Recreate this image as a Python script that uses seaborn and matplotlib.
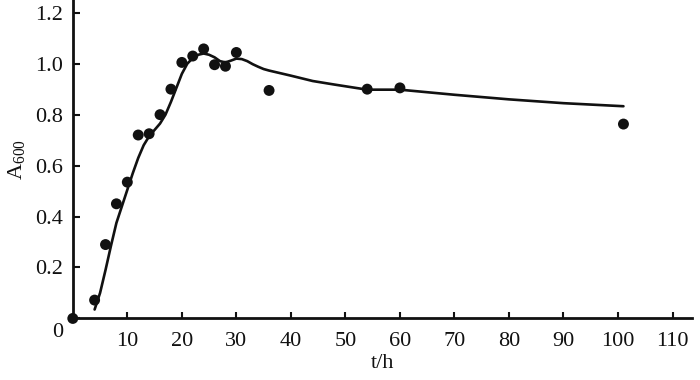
import matplotlib
matplotlib.use("Agg")
import matplotlib.pyplot as plt
import matplotlib.transforms as mtransforms
import seaborn as sns
import pandas as pd

# measured points (t in h, A600)
t_obs = [0, 4, 6, 8, 10, 12, 14, 16, 18, 20, 22, 24, 26, 28, 30, 36, 54, 60, 101]
a_obs = [0.0, 0.072, 0.29, 0.45, 0.535, 0.72, 0.725, 0.80, 0.90, 1.005, 1.03,
         1.058, 0.996, 0.99, 1.044, 0.895, 0.90, 0.905, 0.763]

# fitted curve
t_fit = [4, 5, 6, 7, 8, 9, 10, 11, 12, 13, 14, 15, 16, 17, 18, 19, 20, 21, 22,
         23, 24, 25, 26, 27, 28, 29, 30, 31, 32, 33, 34, 35, 36, 38, 40, 44,
         48, 54, 60, 70, 80, 90, 101]
a_fit = [0.035, 0.10, 0.19, 0.285, 0.375, 0.44, 0.505, 0.57, 0.63, 0.68, 0.715,
         0.74, 0.765, 0.80, 0.85, 0.905, 0.96, 1.00, 1.022, 1.035, 1.04, 1.035,
         1.025, 1.01, 1.005, 1.012, 1.02, 1.018, 1.01, 0.998, 0.988, 0.979,
         0.973, 0.963, 0.953, 0.932, 0.918, 0.898, 0.898, 0.878, 0.86, 0.845,
         0.833]

x_ticks = [10, 20, 30, 40, 50, 60, 70, 80, 90, 100, 110]
y_ticks = [0, 0.2, 0.4, 0.6, 0.8, 1.0, 1.2]
y_tick_labels = ["0", "0.2", "0.4", "0.6", "0.8", "1.0", "1.2"]

sns.set_theme(style="ticks")
plt.rcParams["font.family"] = ["Liberation Serif", "DejaVu Serif"]
plt.rcParams["mathtext.fontset"] = "custom"
plt.rcParams["mathtext.rm"] = "Liberation Serif"
plt.rcParams["mathtext.it"] = "Liberation Serif"

df_obs = pd.DataFrame({"t": t_obs, "A": a_obs})
df_fit = pd.DataFrame({"t": t_fit, "A": a_fit})

fig = plt.figure(figsize=(7, 3.8), dpi=100)
ax = fig.add_axes([0.104, 0.162, 0.884, 0.838])

sns.lineplot(data=df_fit, x="t", y="A", ax=ax, color="#111111", linewidth=1.9)
sns.scatterplot(data=df_obs, x="t", y="A", ax=ax, color="#111111", s=62,
                edgecolor="none", clip_on=False, zorder=5)

ax.set_xlim(0, 113.5)
ax.set_ylim(0, 1.25)
ax.set_xticks(x_ticks)
ax.set_yticks(y_ticks)
ax.set_yticklabels(y_tick_labels)

for side in ["top", "right"]:
    ax.spines[side].set_visible(False)
for side in ["left", "bottom"]:
    ax.spines[side].set_linewidth(2)
    ax.spines[side].set_color("#111111")

ax.tick_params(axis="x", direction="in", length=4, width=1.5, pad=10,
               labelsize=16, colors="#111111")
ax.tick_params(axis="y", direction="in", length=5, width=1.5, pad=7,
               labelsize=16, colors="#111111")

# the "0" at the origin sits a little lower than the axis line
zero_lbl = ax.get_yticklabels()[0]
zero_lbl.set_transform(zero_lbl.get_transform() +
                       mtransforms.ScaledTranslation(0, -8 / 72, fig.dpi_scale_trans))

ax.set_xlabel("t/h", fontsize=16, labelpad=2, color="#111111")
ax.set_ylabel(r"A$_{600}$", fontsize=16, labelpad=6, color="#111111")

fig.savefig("out.png", dpi=100)
